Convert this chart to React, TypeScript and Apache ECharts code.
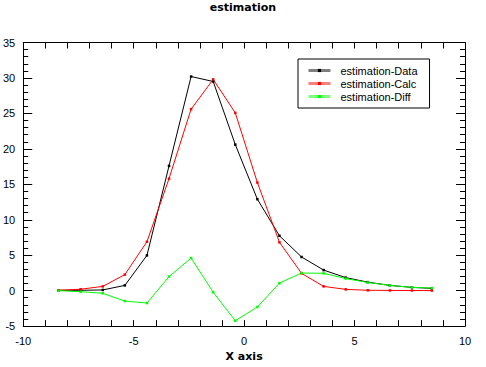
import React, { useEffect, useRef } from "react";
import * as echarts from "echarts";

const titleText = "estimation";
const xAxisName = "X axis";
const seriesNames = ["estimation-Data", "estimation-Calc", "estimation-Diff"];
const seriesColors = ["#000000", "#ff0000", "#00ff00"];

const xValues = [-8.4, -7.4, -6.4, -5.4, -4.4, -3.4, -2.4, -1.4, -0.4, 0.6, 1.6, 2.6, 3.6, 4.6, 5.6, 6.6, 7.6, 8.5];
const dataValues = [0.05, 0.05, 0.1, 0.74, 4.97, 17.6, 30.2, 29.5, 20.6, 12.9, 7.74, 4.75, 2.9, 1.84, 1.2, 0.74, 0.46, 0.32];
const calcValues = [0.05, 0.2, 0.6, 2.26, 6.9, 15.8, 25.6, 29.8, 25.07, 15.25, 6.82, 2.44, 0.6, 0.18, 0.05, 0.03, 0.02, 0.01];
const diffValues = [0.0, -0.15, -0.37, -1.47, -1.75, 1.98, 4.6, -0.23, -4.24, -2.3, 1.06, 2.49, 2.44, 1.7, 1.15, 0.74, 0.46, 0.37];

const FONT = "Liberation Sans";
const BOLD_FONT = "DejaVu Sans";

export default function App() {
  const ref = useRef<HTMLDivElement>(null);
  useEffect(() => {
    if (!ref.current) return;
    const chart = echarts.init(ref.current, undefined, { renderer: "svg" });
    const values = [dataValues, calcValues, diffValues];
    const commonX = {
      type: "value" as const,
      min: -10,
      max: 10,
      interval: 5,
      splitLine: { show: false },
      axisLine: { show: true, onZero: false, lineStyle: { color: "#000", width: 1 } },
      axisTick: { show: true, inside: true, length: 6, lineStyle: { color: "#000" } },
      minorTick: { show: true, splitNumber: 5, length: 6, lineStyle: { color: "#000" } },
    };
    const commonY = {
      type: "value" as const,
      min: -5,
      max: 35,
      interval: 5,
      splitLine: { show: false },
      axisLine: { show: true, onZero: false, lineStyle: { color: "#000", width: 1 } },
      axisTick: { show: true, inside: true, length: 9, lineStyle: { color: "#000" } },
      minorTick: { show: true, splitNumber: 5, length: 5, lineStyle: { color: "#000" } },
    };
    chart.setOption({
      animation: false,
      backgroundColor: "#ffffff",
      title: {
        text: titleText,
        left: "center",
        top: 2,
        padding: 0,
        textStyle: { fontFamily: BOLD_FONT, fontSize: 11, fontWeight: "bold", color: "#000" },
      },
      grid: { left: 21, right: 21, top: 42.5, bottom: 35, containLabel: false },
      legend: {
        orient: "vertical",
        left: 298,
        top: 59,
        padding: [5, 12, 5, 9],
        borderColor: "#000",
        borderWidth: 1,
        itemWidth: 22,
        itemHeight: 4,
        itemGap: 0,
        lineStyle: { width: 3, opacity: 0.5 },
        textStyle: { fontFamily: FONT, fontSize: 11, color: "#000", lineHeight: 13, padding: [0, 0, 0, 5] },
        data: seriesNames,
      },
      xAxis: [
        {
          ...commonX,
          position: "bottom",
          name: xAxisName,
          nameLocation: "middle",
          nameGap: 22,
          nameTextStyle: { fontFamily: BOLD_FONT, fontSize: 11, fontWeight: "bold", color: "#000" },
          axisLabel: { show: true, margin: 9, fontFamily: FONT, fontSize: 11, color: "#000" },
        },
        { ...commonX, position: "top", axisLabel: { show: false } },
      ],
      yAxis: [
        {
          ...commonY,
          position: "left",
          axisLabel: { show: true, margin: 8, fontFamily: FONT, fontSize: 11, color: "#000" },
        },
        { ...commonY, position: "right", axisLabel: { show: false } },
      ],
      series: seriesNames.map((name, i) => ({
        name,
        type: "line",
        xAxisIndex: 0,
        yAxisIndex: 0,
        data: xValues.map((x, j) => [x, values[i][j]]),
        symbol: "rect",
        symbolSize: 2.5,
        showSymbol: true,
        lineStyle: { color: seriesColors[i], width: 1 },
        itemStyle: { color: seriesColors[i] },
        emphasis: { disabled: true },
      })),
    });
    return () => chart.dispose();
  }, []);
  return <div ref={ref} style={{ width: 486, height: 367, position: "absolute", left: 0, top: 0 }} />;
}
